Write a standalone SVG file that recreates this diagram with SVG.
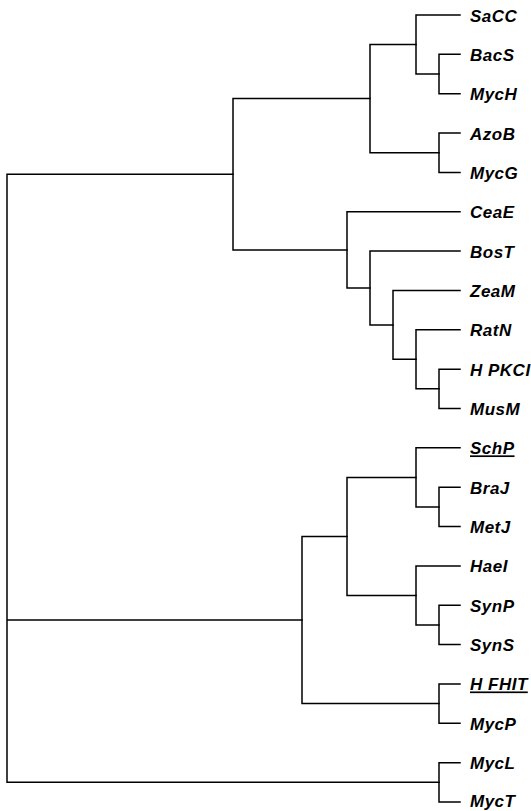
<svg xmlns="http://www.w3.org/2000/svg" width="531" height="811" viewBox="0 0 531 811">
<style>
.e{fill:none;stroke:#000;stroke-width:1.5;stroke-linecap:square}
text{font-family:"Liberation Sans",Arial,sans-serif;font-size:17px;font-weight:bold;font-style:italic;fill:#000;letter-spacing:0.5px}
.u{text-decoration:underline}
</style>
<rect width="531" height="811" fill="#fff"/>
<g id="connectors" class="e">
<path d="M439 54.35V93.7M439 54.35H460M439 93.7H460"/>
<path d="M416 15V74M416 15H460M416 74H439"/>
<path d="M439 133.05V172.4M439 133.05H460M439 172.4H460"/>
<path d="M370 44.5V152.7M370 44.5H416M370 152.7H439"/>
<path d="M439 369.15V408.5M439 369.15H460M439 408.5H460"/>
<path d="M416 329.8V388.8M416 329.8H460M416 388.8H439"/>
<path d="M393 290.45V359.3M393 290.45H460M393 359.3H416"/>
<path d="M370 251.1V324.9M370 251.1H460M370 324.9H393"/>
<path d="M347 211.75V288M347 211.75H460M347 288H370"/>
<path d="M233 98.6V249.9M233 98.6H370M233 249.9H347"/>
<path d="M439 487.2V526.55M439 487.2H460M439 526.55H460"/>
<path d="M416 447.85V506.9M416 447.85H460M416 506.9H439"/>
<path d="M439 605.25V644.6M439 605.25H460M439 644.6H460"/>
<path d="M416 565.9V624.9M416 565.9H460M416 624.9H439"/>
<path d="M347 477.4V595.4M347 477.4H416M347 595.4H416"/>
<path d="M439 683.95V723.3M439 683.95H460M439 723.3H460"/>
<path d="M302 536.4V703.6M302 536.4H347M302 703.6H439"/>
<path d="M439 762.65V802M439 762.65H460M439 802H460"/>
<path d="M7 174.3V782.3M7 174.3H233M7 620H302M7 782.3H439"/>
</g>
<g id="n-SaCC"><text x="470" y="21.5">SaCC</text></g>
<g id="n-BacS"><text x="470" y="60.85">BacS</text></g>
<g id="n-MycH"><text x="470" y="100.2">MycH</text></g>
<g id="n-AzoB"><text x="470" y="139.55">AzoB</text></g>
<g id="n-MycG"><text x="470" y="178.9">MycG</text></g>
<g id="n-CeaE"><text x="470" y="218.25">CeaE</text></g>
<g id="n-BosT"><text x="470" y="257.6">BosT</text></g>
<g id="n-ZeaM"><text x="470" y="296.95">ZeaM</text></g>
<g id="n-RatN"><text x="470" y="336.3">RatN</text></g>
<g id="n-HPKCI"><text x="470" y="375.65">H PKCI</text></g>
<g id="n-MusM"><text x="470" y="415">MusM</text></g>
<g id="n-SchP"><text class="u" x="470" y="454.35">SchP</text></g>
<g id="n-BraJ"><text x="470" y="493.7">BraJ</text></g>
<g id="n-MetJ"><text x="470" y="533.05">MetJ</text></g>
<g id="n-HaeI"><text x="470" y="572.4">HaeI</text></g>
<g id="n-SynP"><text x="470" y="611.75">SynP</text></g>
<g id="n-SynS"><text x="470" y="651.1">SynS</text></g>
<g id="n-HFHIT"><text class="u" x="470" y="690.45">H FHIT</text></g>
<g id="n-MycP"><text x="470" y="729.8">MycP</text></g>
<g id="n-MycL"><text x="470" y="769.15">MycL</text></g>
<g id="n-MycT"><text x="470" y="807">MycT</text></g>
</svg>
